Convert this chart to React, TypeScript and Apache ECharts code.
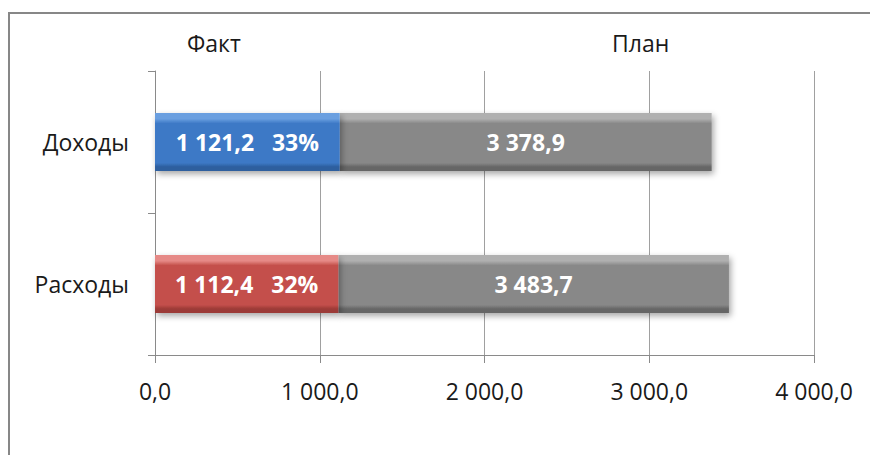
import React, { useEffect, useRef } from "react";
import * as echarts from "echarts";

const categories = ["Доходы", "Расходы"];
const factValues = [1121.2, 1112.4];
const planValues = [3378.9, 3483.7];
const xTicks = [0, 1000, 2000, 3000, 4000];
const seriesNames = ["Факт", "План"];

const FONT = "'Open Sans', 'Noto Sans', sans-serif";

function fmt(v: number): string {
  const [i, d] = v.toFixed(1).split(".");
  return i.replace(/\B(?=(\d{3})+(?!\d))/g, " ") + "," + d;
}

function bevel(light: string, main: string, dark: string) {
  return new echarts.graphic.LinearGradient(0, 0, 0, 1, [
    { offset: 0, color: light },
    { offset: 0.1, color: light },
    { offset: 0.18, color: main },
    { offset: 0.86, color: main },
    { offset: 0.93, color: dark },
    { offset: 1, color: dark },
  ]);
}

const factColors = [
  bevel("#6a9fe0", "#3d79c6", "#2d5e9e"),
  bevel("#e68a87", "#c44f4b", "#9c3a37"),
];
const planColor = bevel("#b0b0b0", "#888888", "#666666");

export default function App() {
  const ref = useRef<HTMLDivElement>(null);
  useEffect(() => {
    if (!ref.current) return;
    const chart = echarts.init(ref.current, undefined, { renderer: "svg" });
    const remainder = planValues.map((p, i) => +(p - factValues[i]).toFixed(1));
    chart.setOption({
      animation: false,
      backgroundColor: "#ffffff",
      textStyle: { fontFamily: FONT },
      graphic: [
        {
          type: "rect",
          shape: { x: 9, y: 13, width: 900, height: 480 },
          style: { fill: "none", stroke: "#878787", lineWidth: 2 },
          silent: true,
        },
      ],
      legend: [
        {
          data: [seriesNames[0]],
          left: 177,
          top: 26,
          itemWidth: 0,
          itemHeight: 0,
          textStyle: { fontSize: 23, color: "#1a1a1a", fontFamily: FONT },
        },
        {
          data: [seriesNames[1]],
          left: 602,
          top: 26,
          itemWidth: 0,
          itemHeight: 0,
          textStyle: { fontSize: 23, color: "#1a1a1a", fontFamily: FONT },
        },
      ],
      grid: { left: 155, right: 56, top: 71, bottom: 100 },
      xAxis: {
        type: "value",
        min: xTicks[0],
        max: xTicks[xTicks.length - 1],
        interval: xTicks[1] - xTicks[0],
        axisLine: { show: true, lineStyle: { color: "#8a8a8a", width: 1 } },
        axisTick: { show: true, length: 8, lineStyle: { color: "#8a8a8a" } },
        splitLine: { show: true, lineStyle: { color: "#a0a0a0", width: 1 } },
        axisLabel: {
          formatter: (v: number) => fmt(v),
          fontSize: 23,
          color: "#1a1a1a",
          margin: 24,
          fontFamily: FONT,
        },
      },
      yAxis: {
        type: "category",
        inverse: true,
        data: categories,
        axisLine: { show: true, lineStyle: { color: "#8a8a8a", width: 1 } },
        axisTick: { show: true, length: 7, lineStyle: { color: "#8a8a8a" } },
        axisLabel: {
          fontSize: 23,
          color: "#1a1a1a",
          margin: 26,
          fontFamily: FONT,
        },
      },
      series: [
        {
          name: seriesNames[0],
          type: "bar",
          stack: "total",
          barWidth: 58,
          data: factValues.map((v, i) => ({
            value: v,
            itemStyle: {
              color: factColors[i],
              shadowBlur: 6,
              shadowColor: "rgba(0,0,0,0.35)",
              shadowOffsetX: 2,
              shadowOffsetY: 3,
            },
          })),
          label: {
            show: true,
            position: "inside",
            color: "#ffffff",
            fontWeight: "bold",
            fontSize: 23,
            fontFamily: FONT,
            formatter: (p: any) =>
              fmt(factValues[p.dataIndex]) +
              "   " +
              Math.round((factValues[p.dataIndex] / planValues[p.dataIndex]) * 100) +
              "%",
          },
          z: 3,
        },
        {
          name: seriesNames[1],
          type: "bar",
          stack: "total",
          barWidth: 58,
          data: remainder,
          itemStyle: {
            color: planColor,
            shadowBlur: 6,
            shadowColor: "rgba(0,0,0,0.35)",
            shadowOffsetX: 2,
            shadowOffsetY: 3,
          },
          label: {
            show: true,
            position: "inside",
            color: "#ffffff",
            fontWeight: "bold",
            fontSize: 23,
            fontFamily: FONT,
            formatter: (p: any) => fmt(planValues[p.dataIndex]),
          },
          z: 2,
        },
      ],
    });
    return () => chart.dispose();
  }, []);
  return (
    <div
      ref={ref}
      style={{ position: "absolute", left: 0, top: 0, width: 870, height: 455 }}
    />
  );
}
